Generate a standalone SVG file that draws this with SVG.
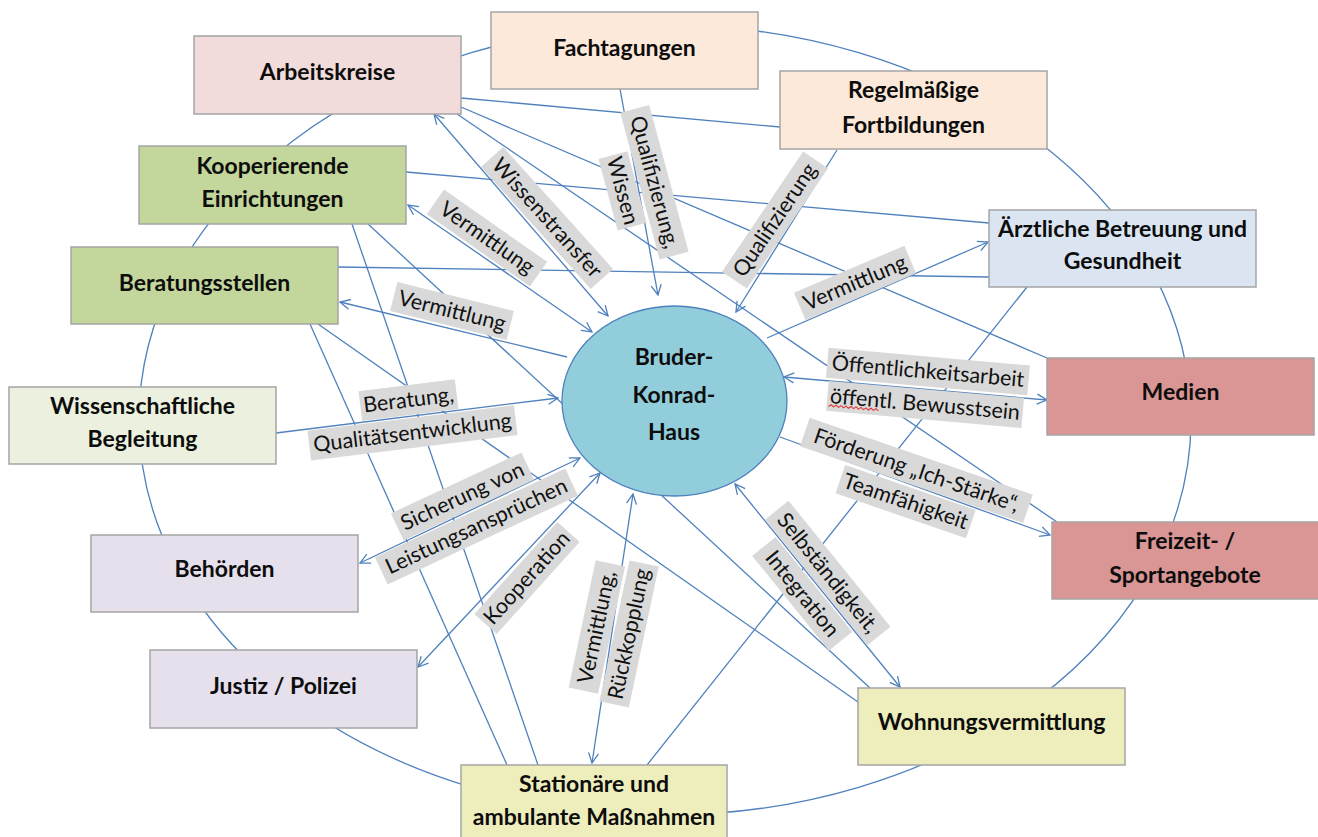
<svg xmlns="http://www.w3.org/2000/svg" width="1318" height="837" viewBox="0 0 1318 837">
<defs>
<style>
.ring{fill:none;stroke:#4F81BD;stroke-width:1.3}
.c{fill:none;stroke:#4F81BD;stroke-width:1.3}
.box{stroke:#A5A5A5;stroke-width:1.5}
.nt{font-family:Lato,"Liberation Sans",sans-serif;font-weight:bold;font-size:23px;fill:#0d0d0d;text-anchor:middle}
.lt{font-family:Lato,"Liberation Sans",sans-serif;font-size:21.5px;fill:#111;text-anchor:middle}
.hl{fill:#D9D9D9}
</style>
<marker id="ah" viewBox="0 0 12 12" refX="11" refY="6" markerWidth="12" markerHeight="12" markerUnits="userSpaceOnUse" orient="auto-start-reverse">
<path d="M1,1 L11,6 L1,11" fill="none" stroke="#4F81BD" stroke-width="1.3"/>
</marker>
</defs>
<rect width="1318" height="837" fill="#fff"/>
<g id="ring">
<ellipse class="ring" cx="665" cy="420" rx="526" ry="395"/>
</g>
<g id="connectors">
<line class="c" x1="461" y1="98" x2="780" y2="127"/>
<line class="c" x1="461" y1="107" x2="1047" y2="358"/>
<line class="c" x1="457" y1="114" x2="1057" y2="522"/>
<line class="c" x1="406" y1="172" x2="989" y2="223"/>
<line class="c" x1="352" y1="224" x2="538" y2="765"/>
<line class="c" x1="368" y1="224" x2="870" y2="688"/>
<line class="c" x1="338" y1="267" x2="989" y2="277"/>
<line class="c" x1="310" y1="324" x2="507" y2="765"/>
<line class="c" x1="318" y1="324" x2="858" y2="702"/>
<line class="c" x1="1027" y1="287" x2="647" y2="765"/>
<line class="c" x1="434" y1="114" x2="608" y2="316" marker-start="url(#ah)" marker-end="url(#ah)"/>
<line class="c" x1="620" y1="89" x2="658" y2="295" marker-end="url(#ah)"/>
<line class="c" x1="837" y1="150" x2="736" y2="312" marker-end="url(#ah)"/>
<line class="c" x1="592" y1="332" x2="408" y2="205" marker-start="url(#ah)" marker-end="url(#ah)"/>
<line class="c" x1="567" y1="357" x2="340" y2="302" marker-end="url(#ah)"/>
<line class="c" x1="276" y1="433" x2="558" y2="398" marker-end="url(#ah)"/>
<line class="c" x1="580" y1="458" x2="360" y2="563" marker-start="url(#ah)" marker-end="url(#ah)"/>
<line class="c" x1="600" y1="473" x2="418" y2="667" marker-start="url(#ah)" marker-end="url(#ah)"/>
<line class="c" x1="633" y1="494" x2="592" y2="763" marker-start="url(#ah)" marker-end="url(#ah)"/>
<line class="c" x1="735" y1="484" x2="900" y2="687" marker-start="url(#ah)" marker-end="url(#ah)"/>
<line class="c" x1="780" y1="437" x2="1050" y2="535" marker-end="url(#ah)"/>
<line class="c" x1="784" y1="377" x2="1047" y2="400" marker-start="url(#ah)" marker-end="url(#ah)"/>
<line class="c" x1="767" y1="338" x2="988" y2="242" marker-end="url(#ah)"/>
</g>
<g id="node-center">
<ellipse cx="674.5" cy="401" rx="112.5" ry="95" fill="#92CDDC" stroke="#4F81BD" stroke-width="1.3"/>
<text class="nt" x="674" y="365">Bruder-</text>
<text class="nt" x="674" y="403">Konrad-</text>
<text class="nt" x="674" y="440">Haus</text>
</g>
<g id="connector-labels">
<g transform="translate(547,218) rotate(48)"><rect class="hl" x="-82" y="-15" width="164" height="30"/><text class="lt" x="0" y="7">Wissenstransfer</text></g>
<g transform="translate(638.5,186.5) rotate(75)"><rect class="hl" x="-76" y="-31.5" width="152" height="30"/><rect class="hl" x="-37" y="1.5" width="74" height="30"/><text class="lt" x="0" y="-9.5">Qualifizierung,</text><text class="lt" x="0" y="23.5">Wissen</text></g>
<g transform="translate(775,220) rotate(-56)"><rect class="hl" x="-72.5" y="-15" width="145" height="30"/><text class="lt" x="0" y="7">Qualifizierung</text></g>
<g transform="translate(487,238) rotate(35)"><rect class="hl" x="-63" y="-15" width="126" height="30"/><text class="lt" x="0" y="7">Vermittlung</text></g>
<g transform="translate(452,311) rotate(14)"><rect class="hl" x="-60" y="-15" width="120" height="30"/><text class="lt" x="0" y="7">Vermittlung</text></g>
<g transform="translate(410.5,416.5) rotate(-7)"><rect class="hl" x="-48.5" y="-31.5" width="97" height="30"/><rect class="hl" x="-104" y="1.5" width="208" height="30"/><text class="lt" x="0" y="-9.5">Beratung,</text><text class="lt" x="0" y="23.5">Qualitätsentwicklung</text></g>
<g transform="translate(469.5,511.5) rotate(-25)"><rect class="hl" x="-72" y="-31.5" width="144" height="30"/><rect class="hl" x="-105" y="1.5" width="210" height="30"/><text class="lt" x="0" y="-9.5">Sicherung von</text><text class="lt" x="0" y="23.5">Leistungsansprüchen</text></g>
<g transform="translate(527,578) rotate(-48)"><rect class="hl" x="-62" y="-15" width="124" height="30"/><text class="lt" x="0" y="7">Kooperation</text></g>
<g transform="translate(613,630.5) rotate(-78)"><rect class="hl" x="-65" y="-31.5" width="130" height="30"/><rect class="hl" x="-72" y="1.5" width="144" height="30"/><text class="lt" x="0" y="-9.5">Vermittlung,</text><text class="lt" x="0" y="23.5">Rückkopplung</text></g>
<g transform="translate(855,283) rotate(-23)"><rect class="hl" x="-60" y="-15" width="120" height="30"/><text class="lt" x="0" y="7">Vermittlung</text></g>
<g transform="translate(926.5,388) rotate(5)"><rect class="hl" x="-101" y="-31.5" width="202" height="30"/><rect class="hl" x="-98" y="1.5" width="196" height="30"/><text class="lt" x="0" y="-9.5">Öffentlichkeitsarbeit</text><text class="lt" x="0" y="23.5">öffentl. Bewusstsein</text><path d="M-96,27 l2.5,-2 l2.5,2 l2.5,-2 l2.5,2 l2.5,-2 l2.5,2 l2.5,-2 l2.5,2 l2.5,-2 l2.5,2 l2.5,-2 l2.5,2 l2.5,-2 l2.5,2 l2.5,-2 l2.5,2 l2.5,-2 l2.5,2 l2.5,-2 l2.5,2" fill="none" stroke="#E03030" stroke-width="1"/></g>
<g transform="translate(911,486) rotate(19)"><rect class="hl" x="-118" y="-31.5" width="236" height="30"/><rect class="hl" x="-69" y="1.5" width="138" height="30"/><text class="lt" x="0" y="-9.5">Förderung „Ich-Stärke“,</text><text class="lt" x="0" y="23.5">Teamfähigkeit</text></g>
<g transform="translate(815,583.5) rotate(51)"><rect class="hl" x="-81" y="-31.5" width="162" height="30"/><rect class="hl" x="-61" y="1.5" width="122" height="30"/><text class="lt" x="0" y="-9.5">Selbständigkeit,</text><text class="lt" x="0" y="23.5">Integration</text></g>
</g>
<g id="node-arbeitskreise"><rect class="box" x="194" y="36" width="267" height="78" fill="#F2DCDB"/><text class="nt" x="327.5" y="80">Arbeitskreise</text></g>
<g id="node-fachtagungen"><rect class="box" x="491" y="12" width="267" height="77" fill="#FDE9D9"/><text class="nt" x="624.5" y="56">Fachtagungen</text></g>
<g id="node-fortbildungen"><rect class="box" x="780" y="71" width="267" height="78" fill="#FDE9D9"/><text class="nt" x="913.5" y="98">Regelmäßige</text><text class="nt" x="913.5" y="133">Fortbildungen</text></g>
<g id="node-kooperierende"><rect class="box" x="139" y="146" width="267" height="78" fill="#C3D69B"/><text class="nt" x="272.5" y="174">Kooperierende</text><text class="nt" x="272.5" y="207">Einrichtungen</text></g>
<g id="node-beratungsstellen"><rect class="box" x="71" y="247" width="267" height="77" fill="#C3D69B"/><text class="nt" x="204.5" y="291">Beratungsstellen</text></g>
<g id="node-aerztliche"><rect class="box" x="989" y="210" width="267" height="77" fill="#DBE5F1"/><text class="nt" x="1122.5" y="237">Ärztliche Betreuung und</text><text class="nt" x="1122.5" y="269">Gesundheit</text></g>
<g id="node-medien"><rect class="box" x="1047" y="358" width="267" height="77" fill="#D99694"/><text class="nt" x="1180.5" y="400">Medien</text></g>
<g id="node-wissenschaftliche"><rect class="box" x="9" y="387" width="267" height="77" fill="#EBF1DE"/><text class="nt" x="142.5" y="414">Wissenschaftliche</text><text class="nt" x="142.5" y="447">Begleitung</text></g>
<g id="node-freizeit"><rect class="box" x="1052" y="522" width="267" height="77" fill="#D99694"/><text class="nt" x="1185" y="549">Freizeit- /</text><text class="nt" x="1185" y="583">Sportangebote</text></g>
<g id="node-behoerden"><rect class="box" x="91" y="535" width="267" height="77" fill="#E5E0EC"/><text class="nt" x="224.5" y="577">Behörden</text></g>
<g id="node-justiz"><rect class="box" x="150" y="650" width="267" height="78" fill="#E5E0EC"/><text class="nt" x="283.5" y="694">Justiz / Polizei</text></g>
<g id="node-stationaer"><rect class="box" x="461" y="765" width="266" height="78" fill="#EEEDBC"/><text class="nt" x="594" y="792">Stationäre und</text><text class="nt" x="594" y="825">ambulante Maßnahmen</text></g>
<g id="node-wohnung"><rect class="box" x="858" y="688" width="267" height="77" fill="#EEEDBC"/><text class="nt" x="991.5" y="730">Wohnungsvermittlung</text></g>
</svg>
